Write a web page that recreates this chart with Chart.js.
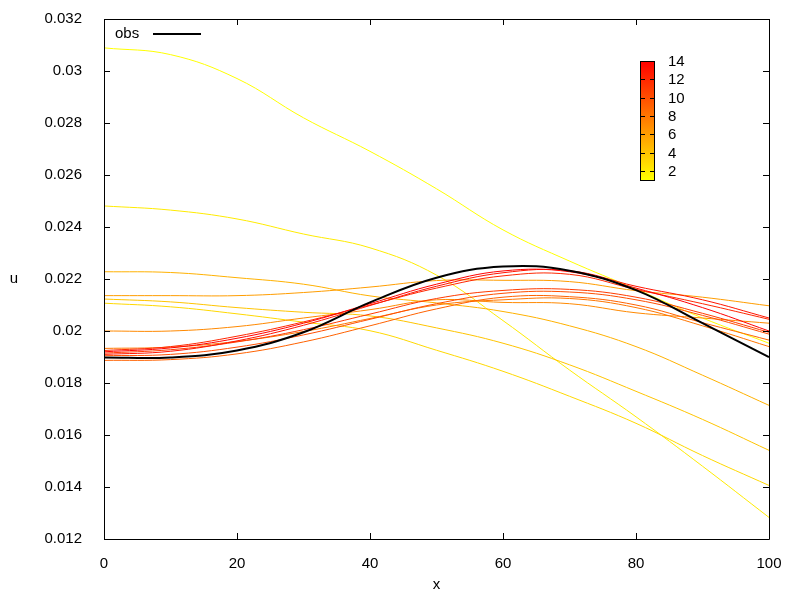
<!DOCTYPE html>
<html>
<head>
<meta charset="utf-8">
<script src="https://cdn.jsdelivr.net/npm/chart.js@4.4.1/dist/chart.umd.min.js"></script>
<style>
  body { margin: 0; background: #fff; }
  canvas { display: block; }
</style>
</head>
<body>
<canvas id="chart" width="800" height="600"></canvas>
<script>
const xValues = [0, 10, 20, 30, 40, 50, 60, 70, 80, 90, 100];

// observation
const obs = [0.01898, 0.01898, 0.01925, 0.01995, 0.02110, 0.02205, 0.02248, 0.02232, 0.02157, 0.02030, 0.01900];

// iterations 1..14 (yellow -> red)
const iter01 = [0.03089, 0.03063, 0.02971, 0.02820, 0.02691, 0.02547, 0.02389, 0.02269, 0.02161, 0.02050, 0.01953];
const iter02 = [0.02481, 0.02465, 0.02431, 0.02373, 0.02320, 0.02215, 0.02040, 0.01850, 0.01670, 0.01480, 0.01283];
const iter03 = [0.02107, 0.02093, 0.02066, 0.02034, 0.02001, 0.01926, 0.01845, 0.01749, 0.01645, 0.01521, 0.01406];
const iter04 = [0.02123, 0.02112, 0.02090, 0.02072, 0.02058, 0.02012, 0.01953, 0.01870, 0.01768, 0.01660, 0.01541];
const iter05 = [0.02228, 0.02225, 0.02205, 0.02180, 0.02135, 0.02108, 0.02075, 0.02020, 0.01940, 0.01830, 0.01714];
const iter06 = [0.02136, 0.02136, 0.02136, 0.02148, 0.02169, 0.02194, 0.02195, 0.02190, 0.02155, 0.02130, 0.02097];
const iter07 = [0.02000, 0.02000, 0.02017, 0.02050, 0.02082, 0.02120, 0.02110, 0.02105, 0.02070, 0.02050, 0.02030];
const iter08 = [0.01933, 0.01938, 0.01960, 0.01998, 0.02048, 0.02100, 0.02120, 0.02125, 0.02090, 0.02020, 0.01940];
const iter09 = [0.01887, 0.01890, 0.01912, 0.01958, 0.02020, 0.02085, 0.02130, 0.02132, 0.02100, 0.02032, 0.01965];
const iter10 = [0.01905, 0.01910, 0.01938, 0.01985, 0.02045, 0.02105, 0.02145, 0.02150, 0.02120, 0.02060, 0.01988];
const iter11 = [0.01915, 0.01928, 0.01958, 0.02005, 0.02065, 0.02125, 0.02156, 0.02160, 0.02130, 0.02068, 0.01995];
const iter12 = [0.01925, 0.01940, 0.01980, 0.02035, 0.02100, 0.02165, 0.02212, 0.02218, 0.02160, 0.02105, 0.02045];
const iter13 = [0.01910, 0.01922, 0.01962, 0.02022, 0.02098, 0.02172, 0.02224, 0.02232, 0.02172, 0.02120, 0.02050];
const iter14 = [0.01920, 0.01935, 0.01972, 0.02030, 0.02105, 0.02180, 0.02231, 0.02228, 0.02165, 0.02090, 0.02000];

const iterations = [iter01, iter02, iter03, iter04, iter05, iter06, iter07,
                    iter08, iter09, iter10, iter11, iter12, iter13, iter14];

// tick labels
const xTicks = [0, 20, 40, 60, 80, 100];
const yTicks = [0.012, 0.014, 0.016, 0.018, 0.020, 0.022, 0.024, 0.026, 0.028, 0.030, 0.032];
const cbTicks = [2, 4, 6, 8, 10, 12, 14];
const cbRange = [1, 14];

// palette: yellow at low end, red at high end
function paletteColor(v) {
  const t = (v - cbRange[0]) / (cbRange[1] - cbRange[0]);
  const g = Math.round(255 * (1 - t));
  return 'rgb(255,' + g + ',0)';
}

function toPoints(arr) {
  return arr.map((y, i) => ({ x: xValues[i], y: y }));
}

const datasets = [{
  label: 'obs',
  data: toPoints(obs),
  borderColor: '#000',
  borderWidth: 2,
  order: 0
}];
iterations.forEach((arr, i) => {
  datasets.push({
    label: 'iter ' + (i + 1),
    data: toPoints(arr),
    borderColor: paletteColor(i + 1),
    borderWidth: 1,
    order: iterations.length - i
  });
});

const FONT = '15px "Liberation Sans", Arial, sans-serif';

// frame, inward ticks on all four sides, axis titles, key and colour box
const decorations = {
  id: 'decorations',
  afterDatasetsDraw(chart) {
    const ctx = chart.ctx;
    const a = chart.chartArea;
    const xs = chart.scales.x, ys = chart.scales.y;
    const tl = 6;
    ctx.save();
    ctx.strokeStyle = '#000';
    ctx.lineWidth = 1;
    ctx.beginPath();
    ctx.rect(Math.round(a.left) + 0.5, Math.round(a.top) + 0.5,
             Math.round(a.right - a.left), Math.round(a.bottom - a.top));
    ctx.stroke();

    ctx.beginPath();
    xTicks.forEach(v => {
      const px = Math.round(xs.getPixelForValue(v)) + 0.5;
      ctx.moveTo(px, a.bottom); ctx.lineTo(px, a.bottom - tl);
      ctx.moveTo(px, a.top); ctx.lineTo(px, a.top + tl);
    });
    yTicks.forEach(v => {
      const py = Math.round(ys.getPixelForValue(v)) + 0.5;
      ctx.moveTo(a.left, py); ctx.lineTo(a.left + tl, py);
      ctx.moveTo(a.right, py); ctx.lineTo(a.right - tl, py);
    });
    ctx.stroke();

    // axis titles, upright like the original
    ctx.fillStyle = '#000';
    ctx.font = FONT;
    ctx.textAlign = 'center';
    ctx.textBaseline = 'middle';
    ctx.fillText('u', 14, (a.top + a.bottom) / 2);
    ctx.fillText('x', (a.left + a.right) / 2, 585);

    // key
    ctx.textAlign = 'left';
    ctx.fillText('obs', a.left + 11, a.top + 15);
    ctx.lineWidth = 2;
    ctx.beginPath();
    ctx.moveTo(a.left + 49, a.top + 15);
    ctx.lineTo(a.left + 97, a.top + 15);
    ctx.stroke();

    // colour box
    const cbX = 640, cbY = 61, cbW = 14, cbH = 119;
    const grad = ctx.createLinearGradient(0, cbY + cbH, 0, cbY);
    grad.addColorStop(0, paletteColor(cbRange[0]));
    grad.addColorStop(1, paletteColor(cbRange[1]));
    ctx.fillStyle = grad;
    ctx.fillRect(cbX, cbY, cbW, cbH);
    ctx.lineWidth = 1;
    ctx.strokeStyle = '#000';
    ctx.strokeRect(cbX + 0.5, cbY + 0.5, cbW, cbH);
    ctx.beginPath();
    ctx.fillStyle = '#000';
    ctx.textBaseline = 'middle';
    cbTicks.forEach(v => {
      const py = Math.round(cbY + cbH - (v - cbRange[0]) / (cbRange[1] - cbRange[0]) * cbH) + 0.5;
      ctx.moveTo(cbX, py); ctx.lineTo(cbX + 5, py);
      ctx.moveTo(cbX + cbW + 1, py); ctx.lineTo(cbX + cbW - 4, py);
      ctx.fillText(String(v), cbX + 28, py);
    });
    ctx.stroke();
    ctx.restore();
  }
};

Chart.defaults.font.family = '"Liberation Sans", Arial, sans-serif';
Chart.defaults.font.size = 15;
Chart.defaults.color = '#000';

new Chart(document.getElementById('chart').getContext('2d'), {
  type: 'line',
  data: { datasets: datasets },
  options: {
    responsive: false,
    animation: false,
    devicePixelRatio: 1,
    layout: { padding: { top: 19, right: 31, left: 0, bottom: 0 } },
    elements: {
      point: { radius: 0 },
      line: { tension: 0.4, fill: false }
    },
    plugins: {
      legend: { display: false },
      tooltip: { enabled: false }
    },
    scales: {
      x: {
        type: 'linear',
        min: 0,
        max: 100,
        afterFit(scale) {
          scale.height = 61;
          scale.paddingLeft = 0;
          scale.paddingRight = 0;
        },
        afterBuildTicks(scale) { scale.ticks = xTicks.map(v => ({ value: v })); },
        grid: { display: false },
        border: { display: false },
        ticks: { padding: 8, maxRotation: 0, callback: v => String(v) }
      },
      y: {
        type: 'linear',
        min: 0.012,
        max: 0.032,
        afterFit(scale) {
          scale.width = 104;
          scale.paddingTop = 0;
          scale.paddingBottom = 0;
        },
        afterBuildTicks(scale) { scale.ticks = yTicks.map(v => ({ value: v })); },
        grid: { display: false },
        border: { display: false },
        ticks: { padding: 14, callback: v => String(+v.toFixed(3)) }
      }
    }
  },
  plugins: [decorations]
});
</script>
</body>
</html>
